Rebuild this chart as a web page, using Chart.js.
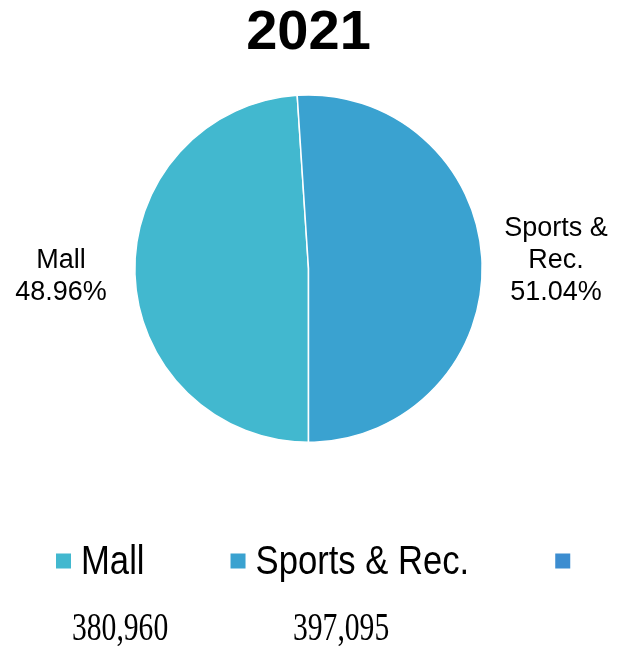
<!DOCTYPE html>
<html>
<head>
<meta charset="utf-8">
<script src="https://cdn.jsdelivr.net/npm/chart.js@4.4.0/dist/chart.umd.min.js"></script>
<style>
  html, body { margin: 0; padding: 0; background: #fff; }
  #wrap { position: relative; width: 617px; height: 646px; }
</style>
</head>
<body>
<div id="wrap">
  <canvas id="pie" width="617" height="646"></canvas>
</div>
<script>
const title = "2021";
const categories = ["Mall", "Sports & Rec.", ""];
const values = [380960, 397095, null];
const colors = ["#42b8cf", "#3aa2d0", "#3c8dd0"];

const total = values.reduce((a, b) => a + (b || 0), 0);

function wrapWords(ctx, text, maxWidth) {
  const words = text.split(" ");
  const lines = [];
  let cur = "";
  words.forEach(w => {
    const test = cur ? cur + " " + w : w;
    if (cur && ctx.measureText(test).width > maxWidth) {
      lines.push(cur);
      cur = w;
    } else {
      cur = test;
    }
  });
  if (cur) lines.push(cur);
  return lines;
}

// name + percent outside each slice, at the slice's mid angle
const sliceLabels = {
  id: "sliceLabels",
  afterDatasetsDraw(chart, args, opts) {
    const ctx = chart.ctx;
    const meta = chart.getDatasetMeta(0);
    ctx.save();
    ctx.font = opts.font;
    ctx.fillStyle = "#000";
    ctx.textAlign = "center";
    ctx.textBaseline = "middle";
    meta.data.forEach((arc, i) => {
      if (!values[i]) return;
      const p = arc.getProps(["x", "y", "startAngle", "endAngle", "outerRadius"], true);
      const mid = (p.startAngle + p.endAngle) / 2;
      const d = p.outerRadius + opts.offset;
      const lx = p.x + Math.cos(mid) * d;
      const ly = p.y + Math.sin(mid) * d;
      const lines = wrapWords(ctx, categories[i], opts.maxWidth);
      lines.push((values[i] / total * 100).toFixed(2) + "%");
      const top = ly - (lines.length - 1) * opts.lineHeight / 2;
      lines.forEach((t, k) => ctx.fillText(t, lx, top + k * opts.lineHeight));
    });
    ctx.restore();
  }
};

// squashed text, the reference uses narrow faces
function narrowText(ctx, text, x, y, squash) {
  ctx.save();
  ctx.translate(x, y);
  ctx.scale(squash, 1);
  ctx.fillText(text, 0, 0);
  ctx.restore();
  return ctx.measureText(text).width * squash;
}

// legend row plus the raw values underneath
const bottomRows = {
  id: "bottomRows",
  afterDraw(chart, args, o) {
    const ctx = chart.ctx;
    ctx.save();
    ctx.font = o.legendFont;
    ctx.textBaseline = "middle";
    ctx.textAlign = "left";
    let x = o.left;
    categories.forEach((c, i) => {
      ctx.fillStyle = colors[i];
      ctx.fillRect(x, o.legendY - o.box / 2, o.box, o.box);
      x += o.box + o.gap;
      ctx.fillStyle = "#000";
      x += narrowText(ctx, c, x, o.legendY + 2, o.legendSquash) + o.spacing;
    });

    ctx.font = o.valueFont;
    ctx.textBaseline = "alphabetic";
    values.forEach((v, i) => {
      if (v == null) return;
      narrowText(ctx, v.toLocaleString("en-US"), o.valueX[i], o.valueY, o.valueSquash);
    });
    ctx.restore();
  }
};

new Chart(document.getElementById("pie"), {
  type: "pie",
  data: {
    labels: categories,
    datasets: [{
      data: values,
      backgroundColor: colors,
      borderColor: "#ffffff",
      borderWidth: 1.5
    }]
  },
  options: {
    responsive: false,
    animation: false,
    devicePixelRatio: 1,
    rotation: 180,
    layout: { padding: { top: 0, bottom: 203, left: 0, right: 0 } },
    plugins: {
      legend: { display: false },
      tooltip: { enabled: false },
      title: {
        display: true,
        text: title,
        color: "#000",
        font: { family: "'Liberation Sans', Arial, sans-serif", size: 56, weight: "bold" },
        padding: { top: 0, bottom: 27 }
      },
      sliceLabels: {
        font: "27px 'Liberation Sans', Arial, sans-serif",
        offset: 74,
        lineHeight: 32,
        maxWidth: 120
      },
      bottomRows: {
        legendFont: "41px 'Liberation Sans', Arial, sans-serif",
        legendSquash: 0.845,
        legendY: 561,
        left: 56,
        box: 15,
        gap: 10,
        spacing: 86,
        valueFont: "40px 'Liberation Serif', 'Times New Roman', serif",
        valueX: [72, 293],
        valueY: 640,
        valueSquash: 0.74
      }
    }
  },
  plugins: [sliceLabels, bottomRows]
});
</script>
</body>
</html>
